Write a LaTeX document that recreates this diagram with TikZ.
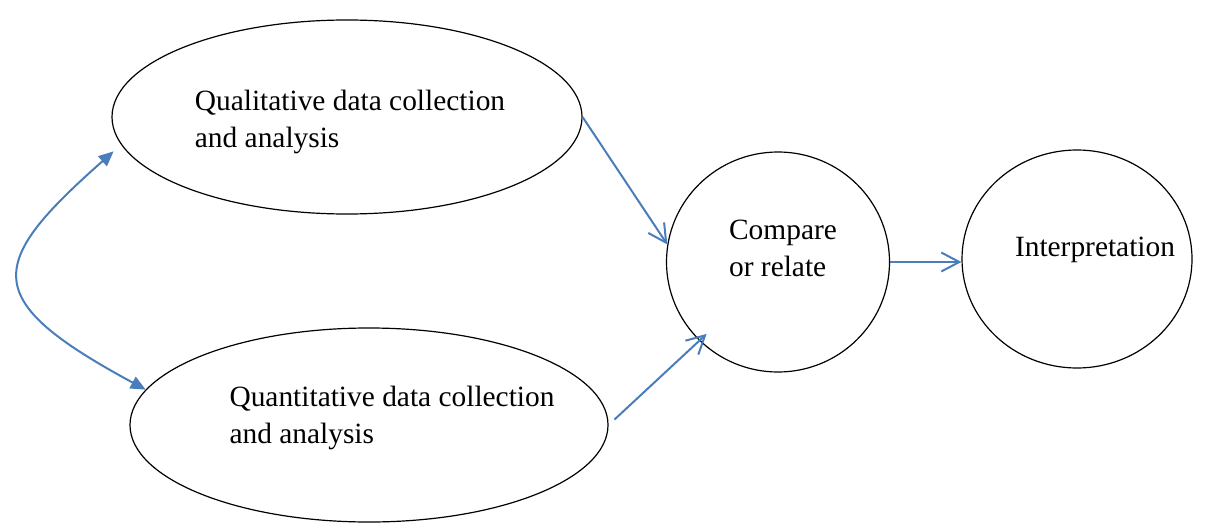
\documentclass[tikz,border=0pt]{standalone}
\usepackage{fontspec}
\setmainfont{Liberation Serif}
\usetikzlibrary{shapes.geometric,arrows.meta}
\definecolor{linkblue}{HTML}{4A7EBB}

\begin{document}
\begin{tikzpicture}[x=0.5pt,y=-0.5pt]
  % Define styles
  \tikzstyle{blob} = [draw, ellipse, line width=0.6pt, inner sep=0pt]
  \tikzstyle{txt} = [align=left, font=\fontsize{14.7}{18.5}\selectfont, inner sep=0pt]
  \tikzstyle{link} = [draw=linkblue, line width=1pt, -{Straight Barb[length=9pt,width=9.5pt]}]
  \tikzstyle{twoway} = [draw=linkblue, line width=1pt, {Triangle[length=7.5pt,width=6.5pt]}-{Triangle[length=7.5pt,width=6.5pt]}]

  \useasboundingbox (0,0) rectangle (1219,524);

  % Draw the ellipses
  \node (qual)[blob, minimum width=235pt, minimum height=97pt,
    label={[txt, xshift=1.5pt, yshift=-2.5pt]center:{Qualitative data collection\\and analysis}}] at (347,117) {};
  \node (quant)[blob, minimum width=239pt, minimum height=97pt,
    label={[txt, xshift=11.5pt, yshift=3.5pt]center:{Quantitative data collection\\and analysis}}] at (369,425) {};
  \node (compare)[blob, minimum width=111.5pt, minimum height=110pt,
    label={[txt, xshift=2.5pt, yshift=7pt]center:{Compare\\or relate}}] at (778,262) {};
  \node (interp)[blob, minimum width=115pt, minimum height=109pt,
    label={[txt, xshift=9pt, yshift=4.5pt]center:{Interpretation}}] at (1077,259) {};

  % Connectors
  \draw[twoway, shorten >=5pt] (quant.171) .. controls (-20,300) and (-15,265) .. (qual.187);
  \draw[link] (qual.east) -- (compare.171);
  \draw[link, shorten <=4pt, shorten >=-5pt] (quant.east) -- (compare.225);
  \draw[link] (compare.east) -- (compare.east -| interp.west);
\end{tikzpicture}
\end{document}
